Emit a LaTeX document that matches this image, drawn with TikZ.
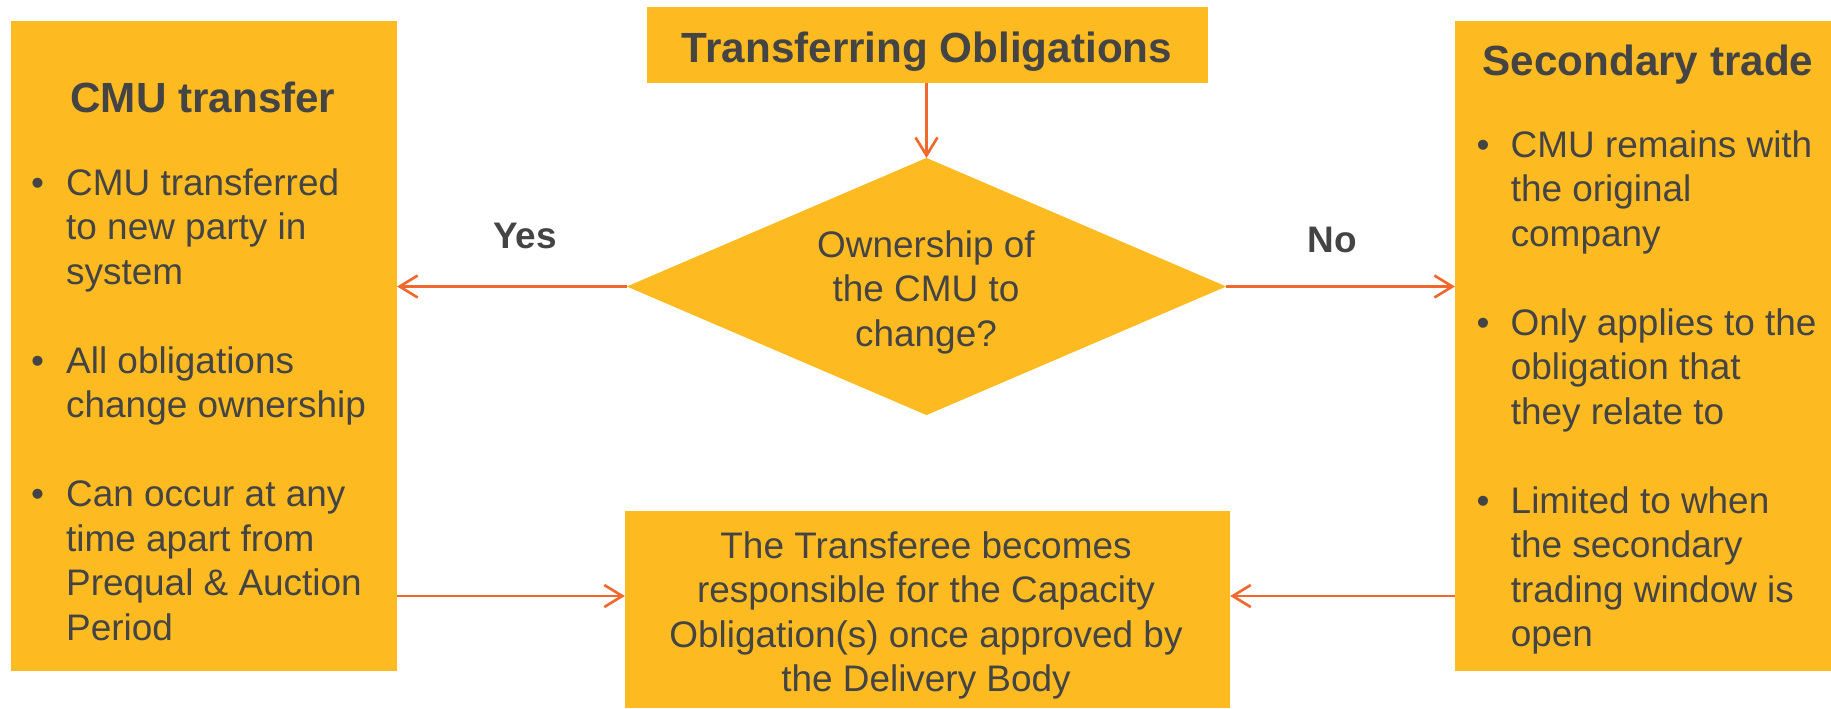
\documentclass[tikz,border=0pt]{standalone}
\usepackage{fontspec}
\setmainfont{Liberation Sans}
\usetikzlibrary{shapes.geometric,arrows.meta}
\definecolor{boxyellow}{RGB}{253,187,33}
\definecolor{arrorange}{RGB}{240,104,44}
\definecolor{txtgray}{RGB}{68,68,68}
\newcommand\bodyfont{\fontsize{10.5}{12.66}\selectfont}
\newcommand\headfont{\fontsize{12}{14.4}\selectfont\bfseries}
\begin{document}
\begin{tikzpicture}[x=0.01cm,y=-0.01cm,
  ybox/.style={fill=boxyellow,inner sep=0,outer sep=0},
  txt/.style={inner sep=0,anchor=base,text=txtgray,font=\bodyfont},
  head/.style={txt,font=\headfont},
  flow/.style={draw=arrorange,line width=0.75pt,-{Straight Barb[length=0.18cm,width=0.22cm]}}]
\useasboundingbox (0,0) rectangle (1831,708);
\node[ybox,minimum width=3.86cm,minimum height=6.5cm] (cmubox) at (204,346) {};
\node[ybox,minimum width=3.76cm,minimum height=6.5cm] (tradebox) at (1643,346) {};
\node[ybox,minimum width=5.61cm,minimum height=0.76cm] (topbox) at (927.5,45) {};
\node[ybox,diamond,minimum width=5.99cm,minimum height=2.57cm] (ownq) at (926.5,286.5) {};
\node[ybox,minimum width=6.05cm,minimum height=1.97cm] (resbox) at (927.5,609.5) {};
\node[head] (toptxt) at (927,62) {Transferring Obligations};
\node[head] (cmutitle) at (203,112) {CMU transfer};
\node[head] (tradetitle) at (1648,75) {Secondary trade};
\node[txt,anchor=base west] (cmulist) at (30.5,195) {\begin{tabular}[t]{@{}p{0.35cm}@{}l@{}}
\textbullet & CMU transferred\\ & to new party in\\ & system\\[12.66pt]
\textbullet & All obligations\\ & change ownership\\[12.66pt]
\textbullet & Can occur at any\\ & time apart from\\ & Prequal \& Auction\\ & Period
\end{tabular}};
\node[txt,anchor=base west] (tradelist) at (1476,157) {\begin{tabular}[t]{@{}p{0.34cm}@{}l@{}}
\textbullet & CMU remains with\\ & the original\\ & company\\[12.66pt]
\textbullet & Only applies to the\\ & obligation that\\ & they relate to\\[12.66pt]
\textbullet & Limited to when\\ & the secondary\\ & trading window is\\ & open
\end{tabular}};
\node[txt] (ownqtxt) at (926,257) {\begin{tabular}[t]{@{}c@{}}Ownership of\\the CMU to\\change?\end{tabular}};
\node[txt] (restxt) at (926,558) {\begin{tabular}[t]{@{}c@{}}The Transferee becomes\\responsible for the Capacity\\Obligation(s) once approved by\\the Delivery Body\end{tabular}};
\node[txt,font=\bodyfont\bfseries] (yes) at (525,248) {Yes};
\node[txt,font=\bodyfont\bfseries] (no) at (1332,252) {No};
\coordinate (lowl) at ([yshift=0.135cm]resbox.west);
\coordinate (lowr) at ([yshift=0.135cm]resbox.east);
\draw[flow] (ownq.north |- topbox.south) -- (ownq.north);
\draw[flow] (ownq.west) -- (ownq.west -| cmubox.east);
\draw[flow] (ownq.east) -- (ownq.east -| tradebox.west);
\draw[flow] (lowl -| cmubox.east) -- (lowl);
\draw[flow] (lowr -| tradebox.west) -- (lowr);
\end{tikzpicture}
\end{document}
